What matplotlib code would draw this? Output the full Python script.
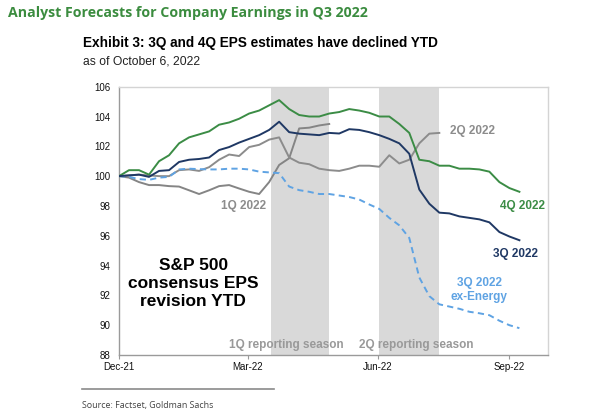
import matplotlib
matplotlib.use("Agg")
import matplotlib.pyplot as plt
import matplotlib.dates as mdates
import pandas as pd
import numpy as np

# ---------------- data ----------------
start = pd.Timestamp("2021-12-31")
weeks = pd.date_range(start, periods=41, freq="7D")

q4_2022 = [100, 100.4, 100.4, 100.1, 101.0, 101.4, 102.2, 102.6, 102.8, 103.0,
           103.45, 103.6, 103.85, 104.2, 104.4, 104.75, 105.1, 104.5, 104.1, 104.0,
           104.0, 104.2, 104.3, 104.5, 104.4, 104.25, 104.0, 104.0, 103.5, 102.9,
           101.1, 101.0, 100.7, 100.7, 100.5, 100.5, 100.45, 100.3, 99.6, 99.2, 98.95]

q3_2022 = [100, 100.05, 100.1, 99.95, 100.35, 100.4, 100.95, 101.1, 101.15, 101.25,
           101.75, 101.95, 102.25, 102.5, 102.75, 103.1, 103.65, 102.95, 102.85, 102.8,
           102.75, 102.9, 102.86, 103.15, 103.1, 102.95, 102.75, 102.5, 102.2, 101.5,
           99.1, 98.15, 97.55, 97.5, 97.3, 97.2, 97.1, 96.9, 96.25, 95.95, 95.7]

q1_2022 = [100, 99.9, 99.6, 99.4, 99.4, 99.33, 99.3, 99.05, 98.8, 99.05,
           99.33, 99.4, 99.17, 98.95, 98.8, 99.6, 100.75, 101.2, 103.2, 103.25,
           103.4, 103.5]

q2_2022 = [100, 100.05, 100.1, 100.05, 100.0, 100.0, 100.4, 100.45, 100.35, 100.6,
           101.1, 101.45, 101.35, 101.95, 102.1, 102.45, 102.6, 101.25, 100.9, 100.8,
           100.5, 100.4, 100.35, 100.5, 100.7, 100.7, 100.63, 101.4, 100.85, 101.1,
           102.2, 102.85, 102.9]

q3_ex_energy = [100, 99.95, 99.8, 99.75, 99.9, 99.95, 100.45, 100.5, 100.47, 100.45,
                100.45, 100.5, 100.5, 100.45, 100.3, 100.25, 100.2, 99.3, 99.06, 98.95,
                98.8, 98.8, 98.7, 98.6, 98.43, 98.1, 97.8, 97.2, 96.7, 95.85,
                93.2, 91.95, 91.4, 91.25, 91.1, 90.9, 90.8, 90.67, 90.3, 90.0, 89.8]

seasons = [("1Q reporting season", "2022-04-16", "2022-05-27"),
           ("2Q reporting season", "2022-07-01", "2022-08-12")]

xtick_dates = ["2021-12-31", "2022-03-31", "2022-06-30", "2022-09-30"]
yticks = list(range(88, 107, 2))

# ---------------- styling ----------------
GREEN = "#3b8c45"
NAVY = "#1f3864"
GRAY = "#8c8c8c"
LBLUE = "#5fa3e3"

fig = plt.figure(figsize=(6.0, 4.11), dpi=100)
ax = fig.add_axes([119/600, 1-355/411, (548-119)/600, (355-86.7)/411])

for label, s, e in seasons:
    ax.axvspan(pd.Timestamp(s), pd.Timestamp(e), color="#d9d9d9", lw=0, zorder=0)

lw = 1.4
ax.plot(weeks[:len(q1_2022)], q1_2022, color="#858585", lw=lw, zorder=2)
ax.plot(weeks[:len(q2_2022)], q2_2022, color="#8c8c8c", lw=lw, zorder=2)
ax.plot(weeks, q3_ex_energy, color=LBLUE, lw=lw, ls=(0, (3.2, 2.2)), zorder=3)
ax.plot(weeks, q4_2022, color=GREEN, lw=lw, zorder=4)
ax.plot(weeks, q3_2022, color=NAVY, lw=lw, zorder=5)

ax.set_xlim(start, start + pd.Timedelta(days=300))
ax.set_ylim(88, 106)
ax.set_yticks(yticks)
ax.set_xticks([pd.Timestamp(d) for d in xtick_dates])
ax.xaxis.set_major_formatter(mdates.DateFormatter("%b-%y"))

fam = ["Liberation Sans", "DejaVu Sans"]
ax.tick_params(axis="y", length=0, pad=6, labelsize=7, labelcolor="#111111")
ax.tick_params(axis="x", length=3, width=0.8, color="#999999", pad=2,
               labelsize=7, labelcolor="#111111")
for t in ax.get_xticklabels() + ax.get_yticklabels():
    t.set_family(fam)

for sp in ["left", "bottom"]:
    ax.spines[sp].set_color("#9a9a9a")
    ax.spines[sp].set_linewidth(1.0)
for sp in ["top", "right"]:
    ax.spines[sp].set_color("#d4d4d4")
    ax.spines[sp].set_linewidth(1.0)

def T(d):
    return pd.Timestamp(d)

lab = dict(family=fam, fontweight="bold", fontsize=8.5, ha="center", va="center")
ax.text(T("2022-09-04"), 103.04, "2Q 2022", color=GRAY, **lab)
ax.text(T("2022-03-28"), 97.99, "1Q 2022", color=GRAY, **lab)
ax.text(T("2022-10-09"), 97.99, "4Q 2022", color=GREEN, **lab)
ax.text(T("2022-10-04"), 94.78, "3Q 2022", color=NAVY, **lab)
ax.text(T("2022-09-09"), 92.35, "3Q 2022\nex-Energy", color=LBLUE,
        linespacing=1.25, **lab)
ax.text(T("2022-02-21"), 92.8, "S&P 500\nconsensus EPS\nrevision YTD", color="#000000",
        family=fam, fontweight="bold", fontsize=12.5, ha="center", va="center",
        linespacing=1.25)
ax.text(T("2022-04-27"), 88.65, "1Q reporting season", color="#999999",
        family=fam, fontweight="bold", fontsize=8.5, ha="center", va="center")
ax.text(T("2022-07-27"), 88.65, "2Q reporting season", color="#999999",
        family=fam, fontweight="bold", fontsize=8.5, ha="center", va="center")

# titles
fig.text(8/600, 1-16.7/411, "Analyst Forecasts for Company Earnings in Q3 2022",
         color="#3b8c3f", family=["Open Sans", "DejaVu Sans"], fontweight="bold",
         fontsize=10.15, ha="left", va="baseline")
fig.text(83/600, 1-46.7/411, "Exhibit 3: 3Q and 4Q EPS estimates have declined YTD",
         color="#000000", family=fam, fontweight="bold", fontsize=9.8,
         ha="left", va="baseline")
fig.text(83/600, 1-64.3/411, "as of October 6, 2022", color="#222222", family=fam,
         fontsize=8.7, ha="left", va="baseline")

# source rule and text
fig.add_artist(plt.Line2D([81.5/600, 274/600], [1-389/411, 1-389/411],
                          color="#8a8a8a", lw=1.2))
fig.text(81.5/600, 1-405/411, "Source: Factset, Goldman Sachs", color="#444444",
         family=["Open Sans", "DejaVu Sans"], fontsize=6.4, ha="left", va="center")

fig.savefig("out.png", dpi=100)
